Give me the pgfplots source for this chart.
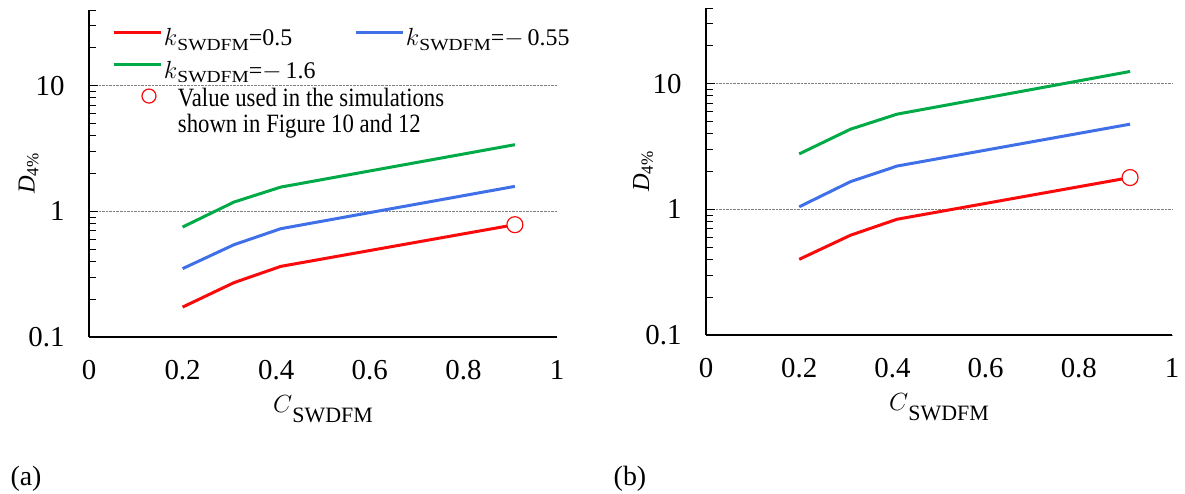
\documentclass[border=0pt]{standalone}
\usepackage{fontspec}
\setmainfont{Liberation Serif}
\newfontfamily\condfont{Liberation Serif}[FakeStretch=0.86]
\newfontfamily\subfont{Liberation Serif}[FakeStretch=1.15]
\usepackage{pgfplots}
\pgfplotsset{compat=1.18}
\definecolor{cred}{RGB}{250,10,10}
\definecolor{cblue}{RGB}{64,112,232}
\definecolor{cgreen}{RGB}{0,170,70}
\newcommand{\ksub}{$k$\raisebox{-4.5bp}{\subfont\fontsize{17}{17}\selectfont SWDFM}}
\newcommand{\Clab}{$C$\raisebox{-10bp}{\fontsize{22}{22}\selectfont SWDFM}}
\newcommand{\Dlab}{\textit{D}\textsubscript{4\%}}
\begin{document}
\begin{tikzpicture}
\useasboundingbox (0,0) rectangle (1185bp,494bp);
\begin{axis}[at={(89bp,157bp)}, anchor=south west, width=468bp, height=327bp,
  scale only axis,
  ymode=log, ymin=0.1, ymax=40,
  xmin=0, xmax=1,
  axis x line*=bottom, axis y line*=left,
  axis line style={line width=1.3bp},
  xtick={0,0.2,0.4,0.6,0.8,1},
  xticklabels={0,0.2,0.4,0.6,0.8,1},
  x tick style={draw=none},
  ytick={0.1,1,10}, yticklabels={0.1,1,10},
  minor ytick={0.2,0.3,0.4,0.5,0.6,0.7,0.8,0.9,2,3,4,5,6,7,8,9,20,30,40},
  y tick style={line width=0.9bp, black},
  major tick length=9bp, minor tick length=7bp,
  tick align=inside,
  ymajorgrids, grid style={densely dotted, gray, line width=0.6bp},
  tick label style={font=\fontsize{29}{30}\selectfont},
  xticklabel style={anchor=base, yshift=-42.5bp},
  yticklabel style={xshift=-21bp},
  xlabel={\Clab}, ylabel={\Dlab},
  xlabel style={font=\fontsize{27}{28}\selectfont, at={(axis description cs:0.5,-0.232)}, anchor=base},
  ylabel style={font=\fontsize{24.5}{26}\selectfont, at={(axis description cs:-0.129,0.5)}, anchor=center},
  legend style={at={(axis description cs:0.0502,0.981)}, anchor=north west, draw=none, fill=none,
    inner sep=0pt, outer sep=0pt,
    font=\fontsize{24}{25}\selectfont, nodes={inner sep=1.5bp},
    /tikz/every even column/.append style={column sep=0bp}},
  legend columns=2, legend cell align=left,
  legend image code/.code={\draw[#1, line width=3bp] (0bp,0bp) -- (47bp,0bp);}]
\addlegendimage{cred}\addlegendentry{\makebox[189bp][l]{\rule[-9.1bp]{0pt}{37bp}\ksub=0.5}}
\addlegendimage{cblue}\addlegendentry{\rule[-9.1bp]{0pt}{37bp}\ksub=$-$\,0.55}
\addlegendimage{cgreen}\addlegendentry{\makebox[189bp][l]{\rule[-9.1bp]{0pt}{37bp}\ksub=$-$\,1.6}}
\addlegendimage{empty legend}\addlegendentry{}
\addlegendimage{legend image code/.code={\path[draw=none,fill=none] (0bp,-1bp) rectangle (47bp,1bp); \draw[cred, line width=1.2bp, fill=white] (35bp,0bp) circle (7bp);}}
\addlegendentry{\makebox[189bp][l]{\rule[-25.6bp]{0pt}{51.2bp}\rlap{\condfont\fontsize{26.5}{28}\selectfont\hspace{14bp}\smash{\raisebox{1.2bp}{Value used in the simulations}}}\rlap{\condfont\fontsize{26.5}{28}\selectfont\hspace{14bp}\smash{\raisebox{-24.8bp}{shown in Figure 10 and 12}}}}}
\addplot[cred, line width=3bp, forget plot] coordinates {(0.2,0.173) (0.31,0.271) (0.41,0.365) (0.91,0.783)};
\addplot[cblue, line width=3bp, forget plot] coordinates {(0.2,0.35) (0.31,0.543) (0.41,0.728) (0.91,1.58)};
\addplot[cgreen, line width=3bp, forget plot] coordinates {(0.2,0.75) (0.31,1.186) (0.41,1.56) (0.91,3.39)};
\addplot[only marks, mark=*, mark size=8bp, mark options={draw=cred, fill=white, line width=1.2bp}, forget plot] coordinates {(0.91,0.783)};
\end{axis}
\begin{axis}[at={(706bp,159bp)}, anchor=south west, width=466bp, height=327bp,
  scale only axis,
  ymode=log, ymin=0.1, ymax=40,
  xmin=0, xmax=1,
  axis x line*=bottom, axis y line*=left,
  axis line style={line width=1.3bp},
  xtick={0,0.2,0.4,0.6,0.8,1},
  xticklabels={0,0.2,0.4,0.6,0.8,1},
  x tick style={draw=none},
  ytick={0.1,1,10}, yticklabels={0.1,1,10},
  minor ytick={0.2,0.3,0.4,0.5,0.6,0.7,0.8,0.9,2,3,4,5,6,7,8,9,20,30,40},
  y tick style={line width=0.9bp, black},
  major tick length=9bp, minor tick length=7bp,
  tick align=inside,
  ymajorgrids, grid style={densely dotted, gray, line width=0.6bp},
  tick label style={font=\fontsize{29}{30}\selectfont},
  xticklabel style={anchor=base, yshift=-42.5bp},
  yticklabel style={xshift=-21bp},
  xlabel={\Clab}, ylabel={\Dlab},
  xlabel style={font=\fontsize{27}{28}\selectfont, at={(axis description cs:0.5,-0.232)}, anchor=base},
  ylabel style={font=\fontsize{24.5}{26}\selectfont, at={(axis description cs:-0.135,0.5)}, anchor=center}]
\addplot[cred, line width=3bp] coordinates {(0.2,0.40) (0.31,0.622) (0.41,0.834) (0.91,1.79)};
\addplot[cblue, line width=3bp] coordinates {(0.2,1.047) (0.31,1.66) (0.41,2.21) (0.91,4.76)};
\addplot[cgreen, line width=3bp] coordinates {(0.2,2.76) (0.31,4.34) (0.41,5.72) (0.91,12.5)};
\addplot[only marks, mark=*, mark size=8bp, mark options={draw=cred, fill=white, line width=1.2bp}] coordinates {(0.91,1.79)};
\end{axis}
\node[font=\fontsize{28}{30}\selectfont] at (26bp,15bp) {(a)};
\node[font=\fontsize{28}{30}\selectfont] at (630bp,15bp) {(b)};
\end{tikzpicture}
\end{document}
